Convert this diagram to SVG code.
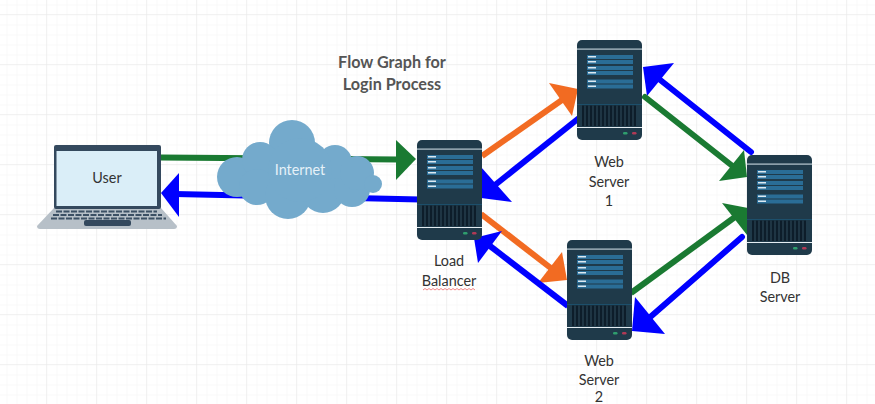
<svg xmlns="http://www.w3.org/2000/svg" width="875" height="404" viewBox="0 0 875 404">
<style>
text{font-family:Lato,"Liberation Sans",sans-serif;font-size:14.400px;fill:#333;text-anchor:middle}
.title{font-size:16.200px;font-weight:bold;fill:#555}
.ln{fill:none;stroke-width:6}
.g{stroke:#1a7a32}.b{stroke:#0000ff}.o{stroke:#f26b22}
.gf{fill:#1a7a32}.bf{fill:#0000ff}.of{fill:#f26b22}
.bar{fill:#2a6d96}.tick{fill:#dbe9f2}
</style>
<defs>
<pattern id="grid" x="-2.500" y="-4.500" width="10" height="10" patternUnits="userSpaceOnUse"><path d="M10 0V10M0 10H10" fill="none" stroke="#f2f2f2" stroke-width="1"/></pattern>
<pattern id="gridm" x="-3" y="-35" width="50" height="50" patternUnits="userSpaceOnUse"><path d="M50 0V50M0 50H50" fill="none" stroke="#e8e8e8" stroke-width="1"/></pattern>
<g id="srv">
<rect width="65" height="100" rx="5" fill="#1f3a4a"/>
<rect y="8.500" width="65" height="1.200" fill="#b9c9d2"/>
<rect x="10" y="15" width="46" height="4" class="bar"/><rect x="10" y="20" width="46" height="4" class="bar"/>
<rect x="10" y="26" width="46" height="4" class="bar"/><rect x="10" y="31" width="46" height="4" class="bar"/>
<rect x="10" y="39.500" width="46" height="4" class="bar"/><rect x="10" y="44.500" width="46" height="4" class="bar"/>
<rect x="11" y="16" width="8" height="1.500" class="tick"/><rect x="11" y="21" width="8" height="1.500" class="tick"/>
<rect x="11" y="27" width="8" height="1.500" class="tick"/><rect x="11" y="32" width="8" height="1.500" class="tick"/>
<rect x="11" y="40.500" width="8" height="1.500" class="tick"/><rect x="11" y="45.500" width="8" height="1.500" class="tick"/>
<rect y="64" width="65" height="1" fill="#1c4f6b"/>
<rect x="5" y="65.500" width="54" height="20.500" fill="#0d1d2a"/>
<path d="M8 65.500V86M12 65.500V86M16 65.500V86M20 65.500V86M24 65.500V86M28 65.500V86M32 65.500V86M36 65.500V86M40 65.500V86M44 65.500V86M48 65.500V86M52 65.500V86M56 65.500V86" stroke="#2b4656" stroke-width="1.200"/>
<rect y="87" width="65" height="1" fill="#e4edf2"/>
<rect x="46" y="92" width="4.500" height="2.500" rx="1.200" fill="#2f9e6e"/>
<rect x="55" y="92" width="4.500" height="2.500" rx="1.200" fill="#b03a56"/>
</g>
</defs>
<rect width="875" height="404" fill="#fff"/>
<rect width="875" height="404" fill="url(#grid)"/>
<rect width="875" height="404" fill="url(#gridm)"/>

<g id="connectors">
<path class="ln g" d="M160 157.500L398 159.500"/><polygon class="gf" points="416,159 396,140 396,180"/>
<path class="ln b" d="M175 194L420 199.500"/><polygon class="bf" points="161,193 179,173 179,217"/>
<path class="ln o" d="M482 156L562 100"/><polygon class="of" points="578,89 549,83 572,116"/>
<path class="ln b" d="M495 185L579 118"/><polygon class="bf" points="481,167 512,202 481,198"/>
<path class="ln o" d="M481 214L552 269"/><polygon class="of" points="567,280 562,252 538,283"/>
<path class="ln b" d="M490 246L568 306"/><polygon class="bf" points="474,238 478,263 502,231"/>
<path class="ln b" stroke-linecap="round" d="M751 152L659 79"/><polygon class="bf" points="643,67 674,63 647,96"/>
<path class="ln g" stroke-linecap="round" d="M645 97L735 168"/><polygon class="gf" points="747,177 744,150 719,181"/>
<path class="ln g" d="M631 293L735 217"/><polygon class="gf" points="748,208 722,203 747,235"/>
<path class="ln b" stroke-linecap="round" d="M742 237L648 319"/><polygon class="bf" points="632,331 635,297 665,334"/>
</g>

<g id="title"><text class="title" x="392" y="68">Flow Graph for</text><text class="title" x="392" y="90">Login Process</text></g>

<g id="user">
<path d="M54 208H161L177 226Q177 229 174 229H40Q37 229 37 226Z" fill="#b7c0c8"/>
<rect x="54" y="145" width="107" height="64" rx="2" fill="#34495e"/>
<rect x="56.500" y="151" width="100.500" height="55" fill="#daeef8"/>
<path d="M56 211.500H157M53 215H162M51 218.500H166" stroke="#3c5064" stroke-width="2" stroke-dasharray="6 1.500"/>
<rect x="84" y="220" width="47" height="6" rx="2" fill="#34495e"/>
<text x="107" y="183">User</text>
</g>

<g id="internet">
<g fill="#74aacc">
<circle cx="292" cy="143" r="23"/><circle cx="237" cy="177" r="20"/><circle cx="260" cy="160" r="18"/>
<circle cx="257" cy="187" r="18"/><circle cx="288" cy="196" r="23"/><circle cx="323" cy="191" r="22"/>
<circle cx="352" cy="189" r="18"/><circle cx="335" cy="162" r="17"/><circle cx="357" cy="173" r="17"/>
<circle cx="373" cy="184" r="9"/><circle cx="300" cy="170" r="32"/>
</g>
<text x="300" y="175" style="fill:#e6f1f8">Internet</text>
</g>

<g id="lb"><use href="#srv" x="417" y="140"/><text x="449" y="266">Load</text><text x="449" y="286">Balancer</text>
<path d="M423 290l2 -1.500l2 1.500l2 -1.500l2 1.500l2 -1.500l2 1.500l2 -1.500l2 1.500l2 -1.500l2 1.500l2 -1.500l2 1.500l2 -1.500l2 1.500l2 -1.500l2 1.500l2 -1.500l2 1.500l2 -1.500l2 1.500l2 -1.500l2 1.500l2 -1.500l2 1.500l2 -1.500l2 1.500" fill="none" stroke="#f06a6a" stroke-width="0.800"/></g>
<g id="web1"><use href="#srv" x="577" y="40"/><text x="609" y="167">Web</text><text x="609" y="187">Server</text><text x="609" y="206">1</text></g>
<g id="web2"><use href="#srv" x="567" y="240"/><text x="599" y="366">Web</text><text x="599" y="385">Server</text><text x="599" y="402">2</text></g>
<g id="db"><use href="#srv" x="747" y="155"/><text x="780" y="283">DB</text><text x="780" y="302">Server</text></g>
</svg>
